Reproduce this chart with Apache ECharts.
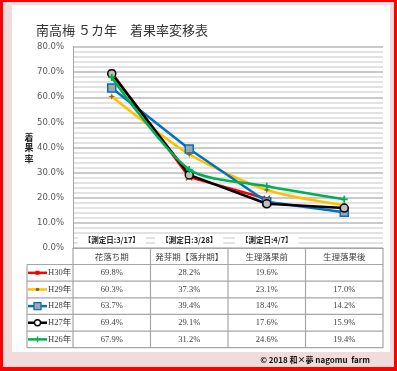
<!DOCTYPE html>
<html>
<head>
<meta charset="utf-8">
<script src="https://cdn.jsdelivr.net/npm/echarts@6/dist/echarts.min.js"></script>
<style>html,body{margin:0;padding:0;background:#fff;}#c{width:397px;height:371px;}</style>
</head>
<body>
<div id="c"></div>
<script>
const titleText = '南高梅 ５カ年　着果率変移表';
const categories = ['花落ち期', '発芽期【落弁期】', '生理落果前', '生理落果後'];
const seriesNames = ['H30年', 'H29年', 'H28年', 'H27年', 'H26年'];
const h30 = [69.8, 28.2, 19.6, null];
const h29 = [60.3, 37.3, 23.1, 17.0];
const h28 = [63.7, 39.4, 18.4, 14.2];
const h27 = [69.4, 29.1, 17.6, 15.9];
const h26 = [67.9, 31.2, 24.6, 19.4];
const measureLabels = ['【測定日:3/17】', '【測定日:3/28】', '【測定日:4/7】'];
const yMin = 0, yMax = 80, yStep = 10;
const yName = '着果率';
const copyright = '© 2018 和×夢 nagomu  farm';

const allData = [h30, h29, h28, h27, h26];
const colors = ['#ff0000', '#ffc000', '#0070c0', '#000000', '#00b050'];
const plusPath = 'path://M3,0h2v3h3v2h-3v3h-2v-3h-3v-2h3z';
const starPath = 'path://M4,0L5,3L8,4L5,5L4,8L3,5L0,4L3,3Z';
const xPath = 'path://M0,1L1,0L4,3L7,0L8,1L5,4L8,7L7,8L4,5L1,8L0,7L3,4Z';
const symbols = [
  {symbol: xPath, size: 7, itemStyle: {color: '#ff0000', borderWidth: 0}},
  {symbol: starPath, size: 7, itemStyle: {color: '#8a6d00', borderWidth: 0}},
  {symbol: 'rect', size: 8, itemStyle: {color: '#a6a6a6', borderColor: '#0070c0', borderWidth: 1.5}},
  {symbol: 'circle', size: 8, itemStyle: {color: '#bfbfbf', borderColor: '#000', borderWidth: 1.5}},
  {symbol: plusPath, size: 7, itemStyle: {color: '#00b050', borderWidth: 0}}
];
const smoothness = [false, 0.25, false, false, 0.25];

const chart = echarts.init(document.getElementById('c'), null, {renderer: 'canvas'});
const sansFont = '"Noto Sans CJK JP", "Noto Sans", sans-serif';
const serifFont = '"Liberation Serif", "Noto Sans CJK JP", serif';

chart.setOption({
  backgroundColor: '#ff0000',
  animation: false,
  title: {
    text: titleText, left: 31, top: 19,
    textStyle: {fontSize: 13, fontWeight: 'normal', color: '#333', fontFamily: sansFont}
  },
  grid: {left: 73, right: 14, top: 47, bottom: 123, containLabel: false},
  xAxis: {
    type: 'category', data: categories, boundaryGap: true,
    axisLine: {show: true, lineStyle: {color: '#a6a6a6', width: 1}},
    axisTick: {show: false},
    axisLabel: {show: true, margin: 5, fontSize: 8.5, color: '#404040', fontFamily: sansFont, interval: 0}
  },
  yAxis: {
    type: 'value', min: yMin, max: yMax, interval: yStep,
    axisLine: {show: true, lineStyle: {color: '#a6a6a6', width: 1}},
    axisTick: {show: false},
    axisLabel: {margin: 9, fontSize: 8.5, color: '#595959', fontFamily: '"DejaVu Sans", sans-serif',
      formatter: v => v.toFixed(1) + '%'},
    splitLine: {show: true, lineStyle: {color: '#b8b8b8', width: 1.5}},
    minorTick: {show: false, splitNumber: 5},
    minorSplitLine: {show: true, lineStyle: {color: '#d9d9d9', width: 1.5}}
  },
  series: allData.map((d, i) => ({
    name: seriesNames[i], type: 'line', data: d,
    smooth: smoothness[i],
    symbol: symbols[i].symbol, symbolSize: symbols[i].size, showSymbol: true,
    itemStyle: symbols[i].itemStyle,
    lineStyle: {color: colors[i], width: 2.5},
    z: 2 + i
  }))
});

function px(ci, v) { return chart.convertToPixel({gridIndex: 0}, [ci, v]); }

const g = [];
// frame
g.push({type: 'rect', z: -10, silent: true, shape: {x: 3, y: 2, width: 391, height: 365}, style: {fill: '#f2dcdb'}});
g.push({type: 'rect', z: -9, silent: true, shape: {x: 12, y: 5, width: 378, height: 347}, style: {fill: '#ffffff'}});

const c0 = px(0, 0)[0], c1 = px(1, 0)[0];
const cw = c1 - c0;
const yAxis0 = px(0, 0)[1];
const bounds = categories.map((_, i) => px(i, 0)[0] - cw / 2);
bounds.push(px(categories.length - 1, 0)[0] + cw / 2);
const headerBottom = yAxis0 + 16.5;
const rowH = 16.64;
const tableLeft = 27;
const tableBottom = headerBottom + rowH * seriesNames.length;
const lineCol = '#a6a6a6';

// measurement labels
measureLabels.forEach((t, i) => {
  const p = px(i, 3.2);
  g.push({type: 'text', z: 20, x: p[0], y: p[1], style: {
    text: t, x: 0, y: 0, align: 'center', verticalAlign: 'middle',
    fontSize: 7.5, fontWeight: 'bold', fill: '#222', fontFamily: sansFont,
    backgroundColor: '#fff', padding: [2, 6]
  }});
});

// table lines
g.push({type: 'line', z: 10, shape: {x1: bounds[0], y1: headerBottom, x2: bounds[bounds.length-1], y2: headerBottom}, style: {stroke: lineCol, lineWidth: 1.2}});
g.push({type: 'line', z: 10, shape: {x1: tableLeft, y1: headerBottom, x2: bounds[0], y2: headerBottom}, style: {stroke: lineCol, lineWidth: 1.2}});
for (let r = 1; r <= seriesNames.length; r++) {
  const y = headerBottom + rowH * r;
  g.push({type: 'line', z: 10, shape: {x1: tableLeft, y1: y, x2: bounds[bounds.length-1], y2: y}, style: {stroke: lineCol, lineWidth: 1.2}});
}
g.push({type: 'line', z: 10, shape: {x1: tableLeft, y1: headerBottom, x2: tableLeft, y2: tableBottom}, style: {stroke: lineCol, lineWidth: 1.2}});
bounds.forEach(x => {
  g.push({type: 'line', z: 10, shape: {x1: x, y1: yAxis0, x2: x, y2: tableBottom}, style: {stroke: lineCol, lineWidth: 1.2}});
});

// table rows
seriesNames.forEach((n, r) => {
  const yc = headerBottom + rowH * (r + 0.5);
  g.push({type: 'line', z: 11, shape: {x1: 28, y1: yc, x2: 47, y2: yc}, style: {stroke: colors[r], lineWidth: 2.5}});
  if (r === 0) g.push({type: 'rect', z: 12, shape: {x: 35.5, y: yc - 2, width: 4, height: 4}, style: {fill: '#ff0000'}});
  if (r === 1) g.push({type: 'circle', z: 12, shape: {cx: 37.5, cy: yc, r: 1.8}, style: {fill: '#8a6d00'}});
  if (r === 2) g.push({type: 'rect', z: 12, shape: {x: 34, y: yc - 3.5, width: 7, height: 7}, style: {fill: '#a6a6a6', stroke: '#0070c0', lineWidth: 1.3}});
  if (r === 3) g.push({type: 'circle', z: 12, shape: {cx: 37.5, cy: yc, r: 3}, style: {fill: '#fff', stroke: '#000', lineWidth: 1.3}});
  if (r === 4) g.push({type: 'line', z: 12, shape: {x1: 37.5, y1: yc - 3, x2: 37.5, y2: yc + 3}, style: {stroke: '#00b050', lineWidth: 1.3}});
  g.push({type: 'text', z: 12, x: 48, y: yc, style: {text: n, x: 0, y: 0, align: 'left', verticalAlign: 'middle',
    fontSize: 8.5, fill: '#404040', fontFamily: serifFont}});
  allData[r].forEach((v, ci) => {
    if (v == null) return;
    g.push({type: 'text', z: 12, x: px(ci, 0)[0], y: yc, style: {text: v.toFixed(1) + '%', x: 0, y: 0,
      align: 'center', verticalAlign: 'middle', fontSize: 8.5, fill: '#404040', fontFamily: serifFont}});
  });
});

// y axis name
g.push({type: 'text', z: 12, x: 29, y: 148, style: {text: yName.split('').join('\n'), x: 0, y: 0,
  align: 'center', verticalAlign: 'middle', fontSize: 9, lineHeight: 10.5, fontWeight: 'bold', fill: '#222', fontFamily: sansFont}});

// copyright
g.push({type: 'text', z: 12, x: 370, y: 360, style: {text: copyright, x: 0, y: 0,
  align: 'right', verticalAlign: 'middle', fontSize: 8, fontWeight: 'bold', fill: '#111', fontFamily: sansFont}});

chart.setOption({graphic: g});
</script>
</body>
</html>
